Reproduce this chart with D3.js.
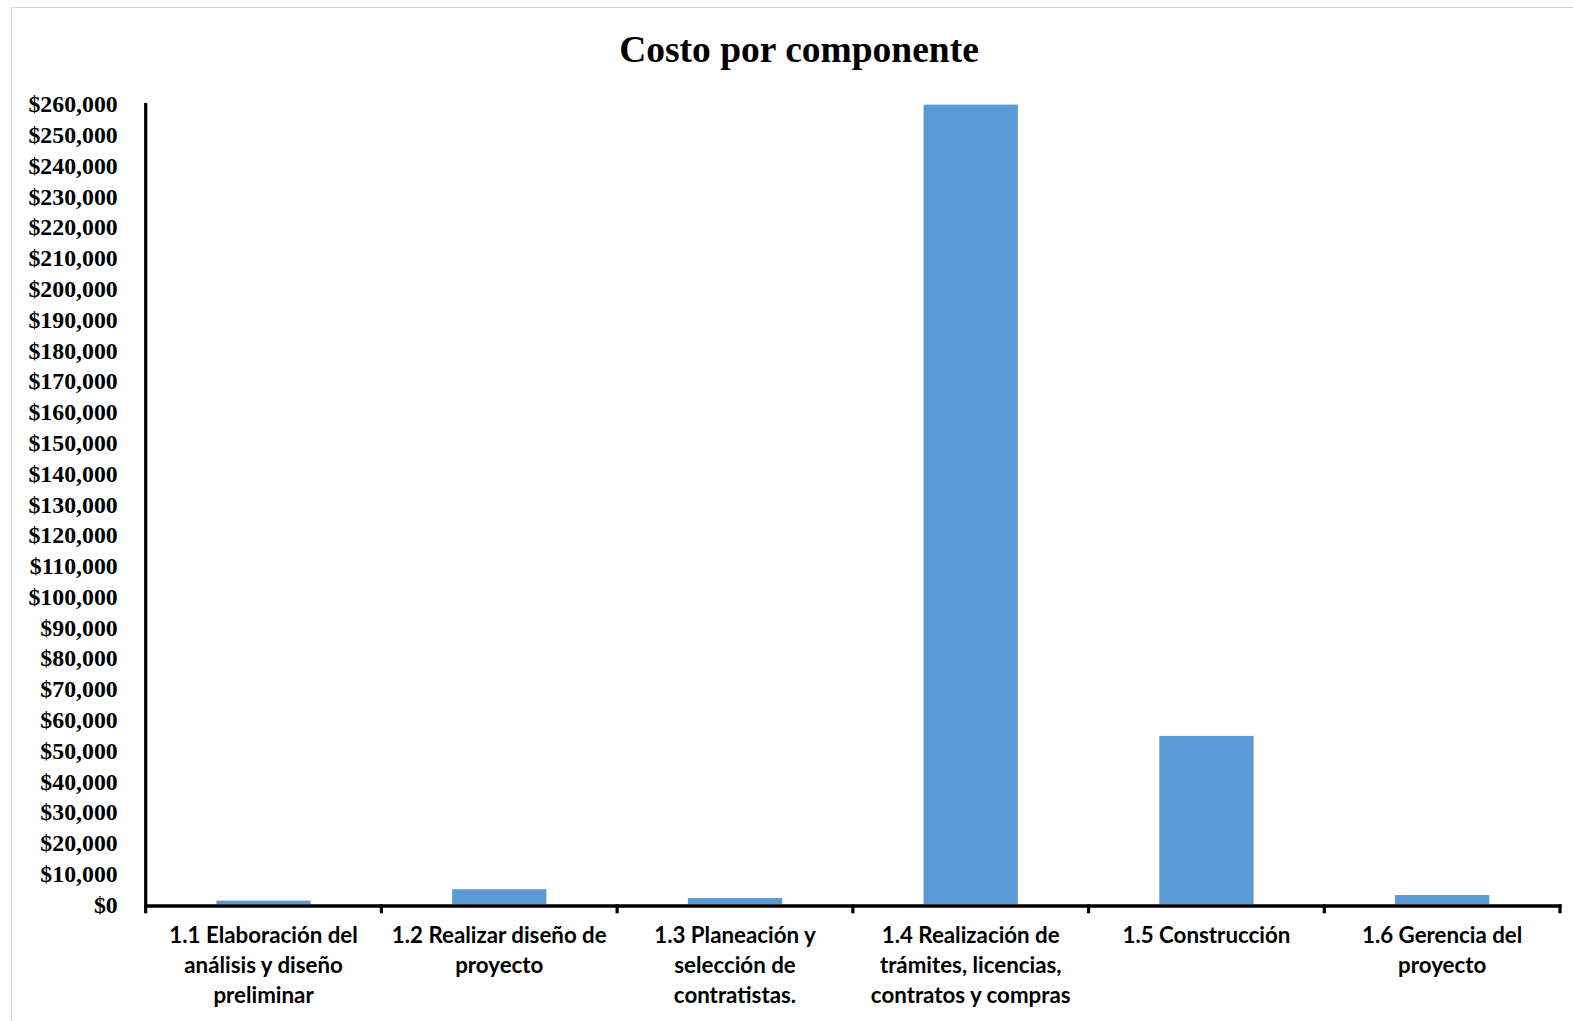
<!DOCTYPE html>
<html><head><meta charset="utf-8">
<script src="https://cdn.jsdelivr.net/npm/d3@7"></script>
<style>body{margin:0;background:#fff}svg{display:block}</style>
</head><body>
<script>
const title = "Costo por componente";
const categories = [
  ["1.1 Elaboración del","análisis y diseño","preliminar"],
  ["1.2 Realizar diseño de","proyecto"],
  ["1.3 Planeación y","selección de","contratistas."],
  ["1.4 Realización de","trámites, licencias,","contratos y compras"],
  ["1.5 Construcción"],
  ["1.6 Gerencia del","proyecto"]
];
const values = [1200, 4900, 2050, 259800, 54700, 3000];
const yTicks = d3.range(0, 260001, 10000);

const W = 1573, H = 1021;
const svg = d3.select("body").append("svg").attr("width", W).attr("height", H);
svg.append("rect").attr("x", 11.5).attr("y", 7.5).attr("width", W).attr("height", H)
  .attr("fill", "#fff").attr("stroke", "#d9d9d9").attr("stroke-width", 1);

const x0 = 145.7, x1 = 1560, y0 = 904.3, y1 = 104;
const x = d3.scaleBand().domain(d3.range(categories.length)).range([x0, x1]).padding(0);
const y = d3.scaleLinear().domain([0, 260000]).range([y0, y1]);

svg.append("text").attr("x", 799).attr("y", 62).attr("text-anchor", "middle")
  .attr("font-family", "Liberation Serif, Times New Roman, serif").attr("font-weight", "bold")
  .attr("font-size", 37.5).text(title);

// bars
const bw = x.bandwidth();
svg.selectAll("rect.bar").data(values).enter().append("rect").attr("class", "bar")
  .attr("x", (d, i) => x(i) + bw * 0.3).attr("width", bw * 0.4)
  .attr("y", d => y(d)).attr("height", d => y0 - y(d)).attr("fill", "#5b9bd5");

// y axis
const yAxis = d3.axisLeft(y).tickValues(yTicks).tickSize(0).tickPadding(0)
  .tickFormat(d => "$" + d3.format(",")(d));
const gy = svg.append("g").attr("transform", `translate(${x0 - 28},0)`).call(yAxis);
gy.select(".domain").remove();
gy.selectAll("text").attr("font-family", "Liberation Serif, Times New Roman, serif")
  .attr("font-weight", "bold").attr("font-size", 23.8).attr("fill", "#000").attr("dy", "0.33em");
svg.append("line").attr("x1", x0).attr("x2", x0).attr("y1", y1 - 1).attr("y2", y0 + 3.5)
  .attr("stroke", "#000").attr("stroke-width", 3.2);

// x axis
const gx = svg.append("g").attr("transform", `translate(0,${y0})`);
gx.append("line").attr("x1", x0 - 1.6).attr("x2", x1 + 1.5).attr("y1", 1.7).attr("y2", 1.7)
  .attr("stroke", "#000").attr("stroke-width", 3.4);
const tickPos = d3.range(categories.length + 1).map(i => i < categories.length ? x(i) : x1);
gx.selectAll("line.tk").data(tickPos).enter().append("line").attr("class", "tk")
  .attr("x1", d => d).attr("x2", d => d).attr("y1", 0).attr("y2", 9)
  .attr("stroke", "#000").attr("stroke-width", 3.2);
const lab = gx.selectAll("text.cat").data(categories).enter().append("text").attr("class", "cat")
  .attr("text-anchor", "middle").attr("font-family", "Lato, sans-serif").attr("font-weight", "bold")
  .attr("font-size", 22.3).attr("fill", "#000");
lab.each(function(lines, i) {
  const t = d3.select(this);
  lines.forEach((l, j) => t.append("tspan").attr("x", x(i) + bw / 2).attr("y", 39 + j * 30).text(l));
});
</script>
</body></html>
